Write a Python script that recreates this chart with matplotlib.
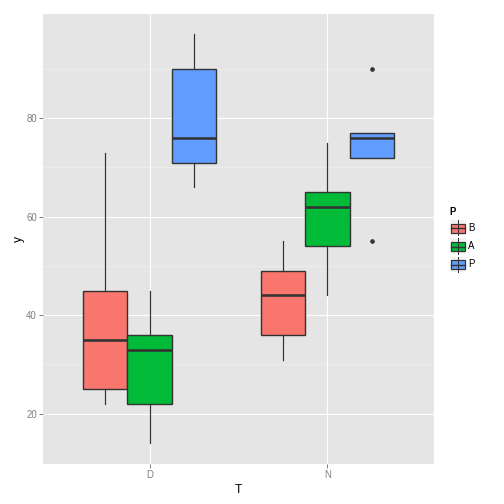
import matplotlib
matplotlib.use("Agg")
import matplotlib.pyplot as plt
from matplotlib.patches import Rectangle

plt.rcParams['font.family'] = ['Liberation Sans', 'DejaVu Sans']

# data (box stats per T group and P level)
groups = ["D", "N"]
levels = ["B", "A", "P"]
colors = ["#F8766D", "#00BA38", "#619CFF"]

whislo = {"D": [22, 14, 66], "N": [31, 44, 72]}
q1 = {"D": [25, 22, 71], "N": [36, 54, 72]}
med = {"D": [35, 33, 76], "N": [44, 62, 76]}
q3 = {"D": [45, 36, 90], "N": [49, 65, 77]}
whishi = {"D": [73, 45, 97], "N": [55, 75, 77]}
fliers = {"D": [[], [], []], "N": [[], [], [90, 55]]}

W, H = 504, 504
fig = plt.figure(figsize=(7, 7), dpi=72)
ax = fig.add_axes([43 / W, (H - 463.7) / H, 391 / W, (463.7 - 14) / H])
ax.set_facecolor("#E5E5E5")

edge = "#333333"
for gi, g in enumerate(groups):
    for li, lv in enumerate(levels):
        pos = gi + 1 + (li - 1) * 0.25
        st = [{"whislo": whislo[g][li], "q1": q1[g][li], "med": med[g][li],
               "q3": q3[g][li], "whishi": whishi[g][li], "fliers": fliers[g][li]}]
        ax.bxp(st, positions=[pos], widths=0.25, patch_artist=True,
               showcaps=False, manage_ticks=False,
               boxprops=dict(facecolor=colors[li], edgecolor=edge, linewidth=1.4),
               medianprops=dict(color=edge, linewidth=2.6, solid_capstyle="butt"),
               whiskerprops=dict(color=edge, linewidth=1.2),
               flierprops=dict(marker="o", markersize=3.6, markerfacecolor=edge,
                               markeredgecolor=edge), zorder=3)

ax.set_xlim(0.4, 2.6)
ax.set_ylim(9.85, 101.15)
ax.set_xticks([1, 2])
ax.set_xticklabels(groups)
ax.set_yticks([20, 40, 60, 80])
ax.set_yticks([30, 50, 70, 90], minor=True)
ax.grid(True, which="major", color="white", linewidth=1.1, zorder=1)
ax.grid(True, which="minor", axis="y", color="#F2F2F2", linewidth=0.6, zorder=1)
ax.set_axisbelow(True)
for s in ax.spines.values():
    s.set_visible(False)
ax.tick_params(which="major", length=4, width=1, color="#7F7F7F",
               labelcolor="#7F7F7F", labelsize=9.6, pad=2)
ax.tick_params(which="minor", length=0)
ax.set_xlabel("T", fontsize=12, labelpad=4)
ax.set_ylabel("y", fontsize=12, labelpad=1)

# legend drawn in pixel coordinates
lg = fig.add_axes([0, 0, 1, 1], zorder=5)
lg.set_xlim(0, W)
lg.set_ylim(H, 0)
lg.axis("off")
lg.text(449, 212, "P", fontsize=9.6, fontweight="bold", va="center", ha="left")
for li, lv in enumerate(levels):
    top = 220 + li * 18.3
    lg.add_patch(Rectangle((450, top), 16, 15.3, facecolor="#F2F2F2", edgecolor="none"))
    lg.plot([458, 458], [top, top + 15.3], color=edge, linewidth=1)
    lg.add_patch(Rectangle((451.3, top + 3.7), 13.4, 9, facecolor=colors[li],
                           edgecolor=edge, linewidth=1.2))
    lg.plot([451.3, 464.7], [top + 8.2, top + 8.2], color=edge, linewidth=1.4)
    lg.text(468, top + 7.8, lv, fontsize=9.6, va="center", ha="left")

fig.savefig("out.png", dpi=72)
